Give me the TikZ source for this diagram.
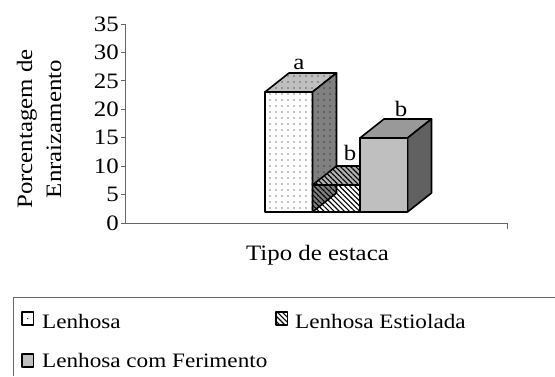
\documentclass[tikz,border=0pt]{standalone}
\usepackage{fontspec}
\setmainfont{Liberation Serif}[FakeStretch=1.13]
\usetikzlibrary{patterns.meta}
\tikzset{
	outline/.style={draw=black, line width=1.6pt, line join=round}
}
\tikzstyle{axisline}=[draw=black!60, line width=.9pt]
\tikzstyle{dotfill}=[pattern={Dots[distance=6pt, radius=.55pt]}, pattern color=black]
\tikzstyle{hatchfill}=[pattern={Lines[angle=-45, distance=3.6pt, line width=1.1pt]}, pattern color=black]
\tikzstyle{axisfont}=[font=\fontsize{22}{29}\selectfont]
\tikzstyle{legendfont}=[font=\fontsize{20.5}{24}\selectfont]
\newcommand{\columnNbox}[5]{
	\filldraw[outline, #2] (#4,#5) -- ++(24,-19) -- ++(47.5,0) -- ++(-24,19) -- cycle;
	\filldraw[outline, #3] (#4+47.5,#5) -- ++(24,-19) -- (#4+71.5,193) -- (#4+47.5,212) -- cycle;
	\filldraw[outline, #1] (#4,#5) rectangle (#4+47.5,212);
}

\begin{document}
\begin{tikzpicture}[x=1pt, y=-1pt]
	\useasboundingbox (0,0) rectangle (555,376);
	% axes
	\draw[axisline] (125,24) -- (125,223) -- (507,223) -- (507,229);
	\foreach \v in {0,5,...,35}{
		\draw[axisline] (121,223-\v*5.686) -- (125,223-\v*5.686);
		\node[axisfont, anchor=east, inner sep=0pt] (tick\v) at (119,223-\v*5.686) {\v};
	}
	\node[axisfont, rotate=90, align=center] (ylabel) at (39,129) {Porcentagem de\\Enraizamento};
	\node[axisfont, anchor=base] (xlabel) at (317.5,260) {Tipo de estaca};
	% columns
	\columnNbox{fill=white, dotfill}{preaction={fill=black!25}, dotfill}{preaction={fill=black!50}, dotfill}{265}{92}
	\columnNbox{fill=white, hatchfill}{preaction={fill=black!30}, hatchfill}{fill=black!50}{312.5}{185}
	\columnNbox{fill=black!25}{fill=black!40}{fill=black!62}{360}{138}
	\node[axisfont, anchor=base] (letterA) at (299,69) {a};
	\node[axisfont, anchor=base] (letterB) at (350,160) {b};
	\node[axisfont, anchor=base] (letterC) at (401,116) {b};
	% legend
	\draw[axisline] (13,376) -- (13,297) -- (555,297);
	\filldraw[outline, line width=1.3pt, fill=white] (22,312) rectangle (33.5,325);
	\fill (27.75,318.5) circle (.7pt);
	\filldraw[outline, line width=1.3pt, fill=white, hatchfill] (276,312) rectangle (287.5,325);
	\filldraw[outline, line width=1.3pt, fill=black!25] (22,354) rectangle (33.5,367);
	\node[legendfont, anchor=base west, inner sep=0pt] (keyLenhosa) at (42,328) {Lenhosa};
	\node[legendfont, anchor=base west, inner sep=0pt] (keyEstiolada) at (295,328) {Lenhosa Estiolada};
	\node[legendfont, anchor=base west, inner sep=0pt] (keyFerimento) at (42,367) {Lenhosa com Ferimento};
\end{tikzpicture}
\end{document}
